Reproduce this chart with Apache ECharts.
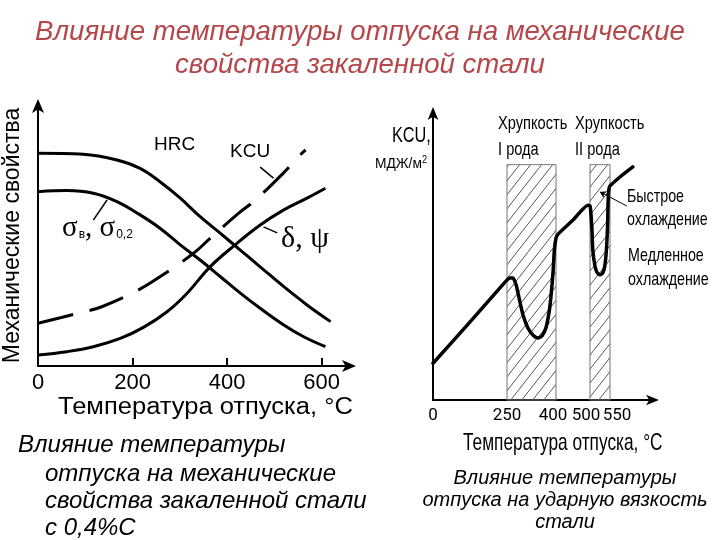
<!DOCTYPE html>
<html><head><meta charset="utf-8">
<script src="https://cdn.jsdelivr.net/npm/echarts@6/dist/echarts.min.js"></script>
<style>html,body{margin:0;background:#fff}#c{width:720px;height:540px}</style>
</head><body><div id="c"></div>
<script>
// ---- Left chart data (temperature °C, relative property level) ----
const leftTickLabels = [0, 200, 400, 600];
const leftTickMarks = [200, 400, 600];
const hrc = [[0,81.5],[96,81.1],[167,78.9],[216,75.7],[258,70.6],[301,64.3],[343,57.2],[386,50.8],[428,44.4],[470,38.0],[520,30.4],[569,23.4],[619,17.0]];
const sigma = [[0,66.8],[61,67.2],[117,66.2],[167,63.0],[216,57.9],[258,52.8],[301,46.4],[343,40.6],[386,34.2],[428,27.9],[470,22.1],[520,15.7],[562,11.2],[608,7.4]];
const delta = [[0,4.2],[61,5.5],[117,7.4],[174,10.6],[223,14.8],[273,20.8],[315,27.8],[364,38.0],[417,46.4],[470,54.0],[520,59.8],[569,64.3],[608,68.1]];
const kcuLeft = [[0,16.4],[89,20.4],[135,22.7],[212,29.1],[258,34.2],[329,43.2],[364,48.9],[424,58.5],[460,63.6],[520,74.1],[551,80.2],[566,82.8]];
// ---- Right chart data (impact toughness KCU vs tempering temperature) ----
const rightTickLabels = [0, 250, 400, 500, 550];
const brittleBands = [[250, 400], [500, 550]];
const kcuRight = [[0,12.8],[120,26.6],[236,40.2],[250,41.8],[259,42.5],[268,42.5],[278,40.1],[287,35.5],[299,29.6],[314,25.1],[330,22.6],[345,21.6],[357,22.3],[369,25.1],[379,30.7],[385,36.6],[391,44.6],[395,52.3],[400,56.4],[406,57.8],[450,62.7],[494,67.9],[500,67.6],[502,65.5],[505,59.2],[507,52.3],[512,47],[517,44.6],[525,43.6],[532,44.3],[537,46.7],[541,52.3],[544,61],[545,68],[547,73.2],[550,74.6],[575,77.7],[607,81.2]];

// The right-hand axis of the original is drawn schematically (non-uniform spacing):
// piecewise-linear warp of temperature onto the drawn axis.
const warpT = [0, 250, 400, 500, 550, 700];
const warpU = [0, 74, 123, 157, 177, 237];
function warp(t){ for(let i=1;i<warpT.length;i++){ if(t<=warpT[i]||i===warpT.length-1){ const a=warpT[i-1],b=warpT[i]; return warpU[i-1]+(t-a)/(b-a)*(warpU[i]-warpU[i-1]); } } }
function unwarp(u){ for(let i=1;i<warpU.length;i++){ if(u<=warpU[i]+1e-9||i===warpU.length-1){ const a=warpU[i-1],b=warpU[i]; return warpT[i-1]+(u-a)/(b-a)*(warpT[i]-warpT[i-1]); } } }

const FN = "'Liberation Sans', Arial, sans-serif";
const SERIF = "'Liberation Serif', 'Times New Roman', serif";
const RB = "Roboto, sans-serif";

const pc = document.createElement('canvas'); pc.width = 11; pc.height = 14;
const g = pc.getContext('2d'); g.strokeStyle = '#555'; g.lineWidth = 1;
g.beginPath(); g.moveTo(0,14); g.lineTo(11,0); g.stroke();

const chart = echarts.init(document.getElementById('c'), null, {renderer:'canvas'});
const lineS = (data, x, y, extra) => Object.assign({
  type:'line', data, xAxisIndex:x, yAxisIndex:y, symbol:'none', smooth:0.4,
  lineStyle:{color:'#000', width:3}, silent:true, animation:false
}, extra||{});
const leader = (a, b, w, arrow) => ({ silent:true, symbol:['none', arrow ? 'arrow' : 'none'], symbolSize:6, animation:false,
  lineStyle:{color:'#000', width:w||1.5, type:'solid'}, label:{show:false},
  data:[[{coord:a},{coord:b}]] });
const txt = (x, y, text, font, sx) => ({type:'text', x, y, scaleX:sx||1,
  style:{text, font, fill:'#000', verticalAlign:'middle'}});
const tickRich = (pl, pr) => ({padding:[0,pr,0,pl], fontSize:17, fontFamily:RB, color:'#000'});

chart.setOption({
  animation:false,
  title:{ text:'Влияние температуры отпуска на механические\nсвойства закаленной стали', left:'center', top:11,
    textStyle:{ fontFamily:FN, fontStyle:'italic', fontWeight:'normal', fontSize:27.6, lineHeight:33, color:'#b5474b' } },
  grid:[
    {left:38, top:105, width:312, height:261},
    {left:433, top:113, width:220, height:287}
  ],
  xAxis:[
    {gridIndex:0, type:'value', min:0, max:660, splitLine:{show:false},
     axisLine:{lineStyle:{color:'#000', width:2}, symbol:['none','arrow'], symbolSize:[9,14], symbolOffset:[0,6]},
     axisTick:{show:true, inside:true, length:8, lineStyle:{color:'#000', width:2}, customValues:leftTickMarks},
     axisLabel:{customValues:leftTickLabels, color:'#000', fontSize:22, fontFamily:FN, margin:6, hideOverlap:false}},
    {gridIndex:1, type:'value', min:0, max:220, splitLine:{show:false},
     axisLine:{lineStyle:{color:'#000', width:2}, symbol:['none','arrow'], symbolSize:[8,13], symbolOffset:[0,6]},
     axisTick:{show:false},
     axisLabel:{customValues:rightTickLabels.map(warp), color:'#000', fontSize:17, fontFamily:RB, margin:7, hideOverlap:false,
       formatter:v => { const t = Math.round(unwarp(v)); return t===550 ? '{r|550}' : t===400 ? '{l|400}' : t===500 ? '{m|500}' : String(t); },
       rich:{ r:tickRich(14,0), l:tickRich(0,6), m:tickRich(0,8) }}}
  ],
  yAxis:[
    {gridIndex:0, type:'value', min:0, max:100, splitLine:{show:false}, axisTick:{show:false}, axisLabel:{show:false},
     axisLine:{show:true, lineStyle:{color:'#000', width:2}, symbol:['none','arrow'], symbolSize:[9,14], symbolOffset:[0,6]},
     name:'Механические свойства', nameLocation:'middle', nameGap:14, nameRotate:90,
     nameTextStyle:{color:'#000', fontSize:23, fontFamily:FN}},
    {gridIndex:1, type:'value', min:0, max:100, splitLine:{show:false}, axisTick:{show:false}, axisLabel:{show:false},
     axisLine:{show:true, lineStyle:{color:'#000', width:2}, symbol:['none','arrow'], symbolSize:[8,13], symbolOffset:[0,6]}}
  ],
  series:[
    lineS(hrc,0,0),
    lineS(sigma,0,0,{markLine:leader([117,55.9],[146,63.6])}),
    lineS(delta,0,0,{markLine:leader([477,53.3],[506,51.0])}),
    lineS(kcuLeft,0,0,{lineStyle:{color:'#000', width:3, type:[36,17]}, markLine:leader([470,76.2],[498,72.0])}),
    lineS(kcuRight.map(p => [warp(p[0]), p[1]]),1,1,{smooth:0.2, lineStyle:{color:'#000', width:3.5, join:'round', cap:'round'}, z:5,
      markArea:{silent:true, itemStyle:{color:{image:pc, repeat:'repeat'}, borderColor:'#777', borderWidth:1},
        data: brittleBands.map(b => [{xAxis:warp(b[0]), yAxis:0},{xAxis:warp(b[1]), yAxis:82}])},
      markLine:leader([warp(592),67.6],[warp(525),72.5],1,true)})
  ],
  graphic:[
    txt(58, 408, 'Температура отпуска, °C', '23px '+FN, 1.11),
    txt(154, 145, 'HRC', '19px '+FN),
    txt(230, 152, 'KCU', '19px '+FN),
    {type:'text', x:62, y:214, style:{rich:{
        s:{fontSize:29, fontFamily:SERIF, fill:'#000'},
        b:{fontSize:12, fontFamily:FN, fill:'#000', padding:[12,0,0,1]}},
      text:'{s|σ}{b|в}{s|, σ}{b|0,2}'}},
    {type:'text', x:281, y:224, style:{text:'δ, ψ', font:'30px '+SERIF, fill:'#000'}},
    txt(392, 136, 'KCU,', '22px '+FN, 0.74),
    {type:'text', x:375, y:155, scaleX:0.92, style:{rich:{a:{fontSize:15, fontFamily:FN, fill:'#000'}, s:{fontSize:10, fontFamily:FN, fill:'#000', padding:[0,0,8,0]}}, text:'{a|МДЖ/м}{s|2}'}},
    txt(498, 124, 'Хрупкость', '19px '+FN, 0.77),
    txt(498, 150, 'I рода', '19px '+FN, 0.77),
    txt(575, 124, 'Хрупкость', '19px '+FN, 0.77),
    txt(575, 150, 'II рода', '19px '+FN, 0.77),
    txt(627, 197, 'Быстрое', '19px '+FN, 0.75),
    txt(627, 220, 'охлаждение', '19px '+FN, 0.75),
    txt(628, 256, 'Медленное', '19px '+FN, 0.75),
    txt(628, 280, 'охлаждение', '19px '+FN, 0.75),
    txt(463, 443, 'Температура отпуска, °C', '24px '+FN, 0.72),
    txt(18, 445, 'Влияние температуры', 'italic 24px '+FN),
    {type:'text', x:45, y:461, style:{text:'отпуска на механические\nсвойства закаленной стали\nс 0,4%С', font:'italic 24px '+FN, lineHeight:27, fill:'#000'}},
    {type:'text', x:565, y:467, style:{text:'Влияние температуры\nотпуска на ударную вязкость\nстали', font:'italic 20px '+FN, lineHeight:22, fill:'#000', align:'center'}}
  ]
});
</script></body></html>
